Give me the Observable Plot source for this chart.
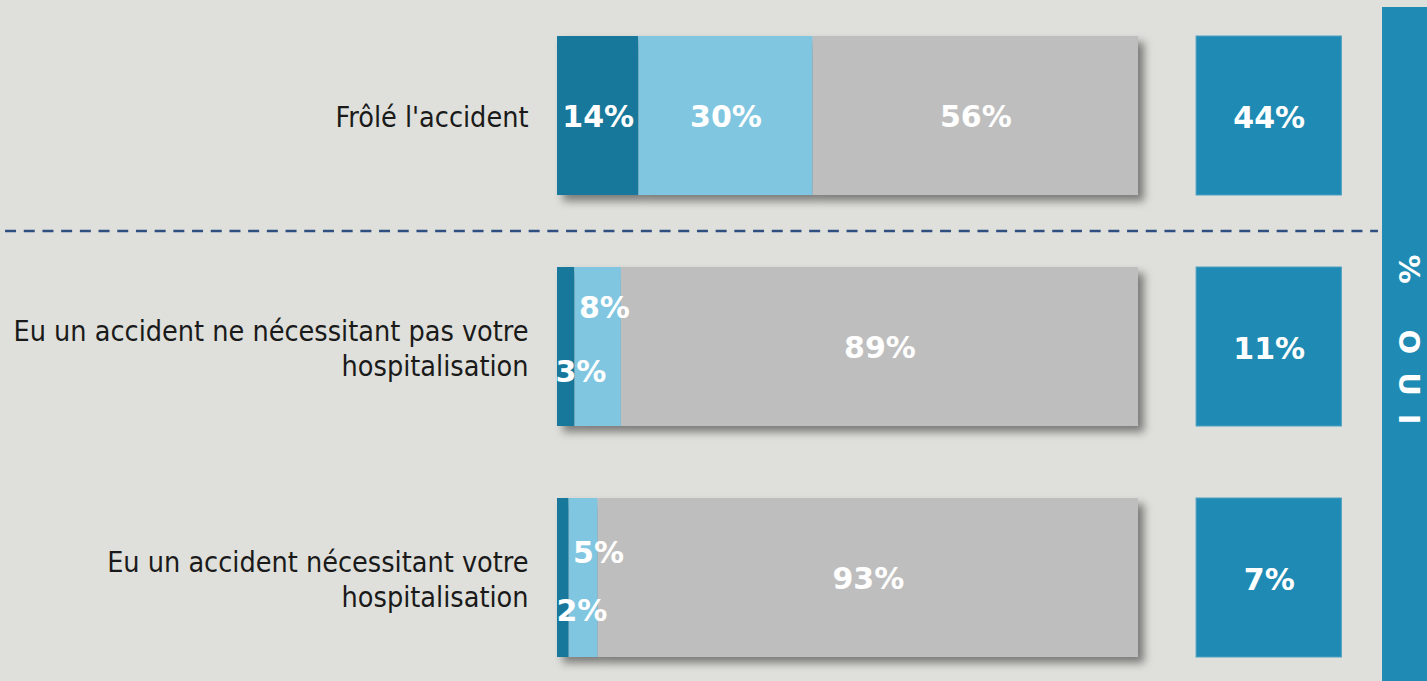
<!DOCTYPE html>
<html>
<head>
<meta charset="utf-8">
<script src="https://cdn.jsdelivr.net/npm/d3@7"></script>
<script src="https://cdn.jsdelivr.net/npm/@observablehq/plot@0.6"></script>
<style>
  html, body { margin: 0; padding: 0; background: #dfe0db; overflow: hidden; }
  #chart svg { display: block; background: #dfe0db; }
</style>
</head>
<body>
<div id="chart"></div>
<script>
// ---- Data ----
const categories = [
  "Frôlé l'accident",
  "Eu un accident ne nécessitant pas votre\nhospitalisation",
  "Eu un accident nécessitant votre\nhospitalisation"
];
const series = ["Oui, plusieurs fois", "Oui, une fois", "Non"];
const plusieursFois = [14, 3, 2];
const uneFois = [30, 8, 5];
const non = [56, 89, 93];
const ouiTotal = [44, 11, 7];
const bandTitle = "% OUI";

const colors = ["#17789b", "#80c6e1", "#bebebe"];
const ouiColor = "#1f8bb4";

// ---- Build stacked rows ----
const rows = [];
categories.forEach((cat, i) => {
  const vals = [plusieursFois[i], uneFois[i], non[i]];
  let acc = 0;
  vals.forEach((v, j) => {
    rows.push({cat, row: i, serie: series[j], s: j, value: v, x1: acc, x2: acc + v});
    acc += v;
  });
});
const ouiRows = categories.map((cat, i) => ({cat, value: ouiTotal[i]}));

const labelFont = "DejaVu Sans, Verdana, sans-serif";
const catFont = "DejaVu Sans Condensed, DejaVu Sans, Tahoma, sans-serif";
const pct = d => d.value + "%";
const mid = d => (d.x1 + d.x2) / 2;
const lab = {fill: "white", fontWeight: "bold", fontSize: 30, fontFamily: labelFont};

const chart = Plot.plot({
  width: 1427,
  height: 681,
  marginTop: 7,
  marginBottom: 0,
  marginLeft: 557,
  marginRight: 289,
  style: {background: "#dfe0db"},
  x: {domain: [0, 100], range: [557, 1138], axis: null},
  y: {domain: categories, range: [35, 657], paddingInner: 0.313, paddingOuter: 0, axis: null},
  color: {domain: series, range: colors, legend: false},
  marks: [
    // right "% OUI" band
    Plot.rect([bandTitle], {x1: 142, x2: 152, fill: ouiColor}),
    Plot.text([bandTitle], {x: 146.4, frameAnchor: "middle", text: d => d, rotate: 90, fill: "white",
      fontWeight: "bold", fontSize: 29, fontFamily: labelFont, dy: 4}),
    // dashed separator
    Plot.ruleY([categories[1]], {y: d => d, x1: -95, x2: 141.3, stroke: "#2f4f80",
      strokeWidth: 2.5, strokeDasharray: "11,7.7", dy: -116}),
    // stacked bars
    Plot.barX(rows, {x1: "x1", x2: "x2", y: "cat", fill: "serie"}),
    // category labels
    Plot.text(categories, {x: 0, y: d => d, text: d => d, textAnchor: "end", dx: -29,
      fontSize: 28.5, fontFamily: catFont, fill: "#1a1a1a", lineHeight: 1.23}),
    // big in-bar labels
    Plot.text(rows.filter(d => d.value >= 10), {x: mid, y: "cat", text: pct, dy: 1, ...lab}),
    // small labels, row 2
    Plot.text(rows.filter(d => d.value < 10 && d.row === 1 && d.s === 0), {x: "x1", y: "cat", text: pct,
      textAnchor: "start", dx: -2, dy: 25, ...lab}),
    Plot.text(rows.filter(d => d.value < 10 && d.row === 1 && d.s === 1), {x: "x1", y: "cat", text: pct,
      textAnchor: "start", dx: 4, dy: -39, ...lab}),
    // small labels, row 3
    Plot.text(rows.filter(d => d.value < 10 && d.row === 2 && d.s === 0), {x: "x1", y: "cat", text: pct,
      textAnchor: "start", dx: -1, dy: 33, ...lab}),
    Plot.text(rows.filter(d => d.value < 10 && d.row === 2 && d.s === 1), {x: "x1", y: "cat", text: pct,
      textAnchor: "start", dx: 4, dy: -25, ...lab}),
    // OUI boxes
    Plot.barX(ouiRows, {x1: 110, x2: 135, y: "cat", fill: ouiColor, stroke: "#4d9fc1", strokeWidth: 1}),
    Plot.text(ouiRows, {x: 122.5, y: "cat", text: pct, dy: 2, ...lab})
  ]
});

document.getElementById("chart").appendChild(chart);

// drop shadow on the stacked bars
const barGroups = chart.querySelectorAll('g[aria-label="bar"]');
if (barGroups.length) barGroups[0].style.filter = "drop-shadow(6px 6px 4px rgba(55,55,55,0.6))";
// letter spacing on vertical band title
chart.querySelectorAll('g[aria-label="text"] text').forEach(t => {
  if (t.textContent === bandTitle) t.style.letterSpacing = "18px";
});
</script>
</body>
</html>
